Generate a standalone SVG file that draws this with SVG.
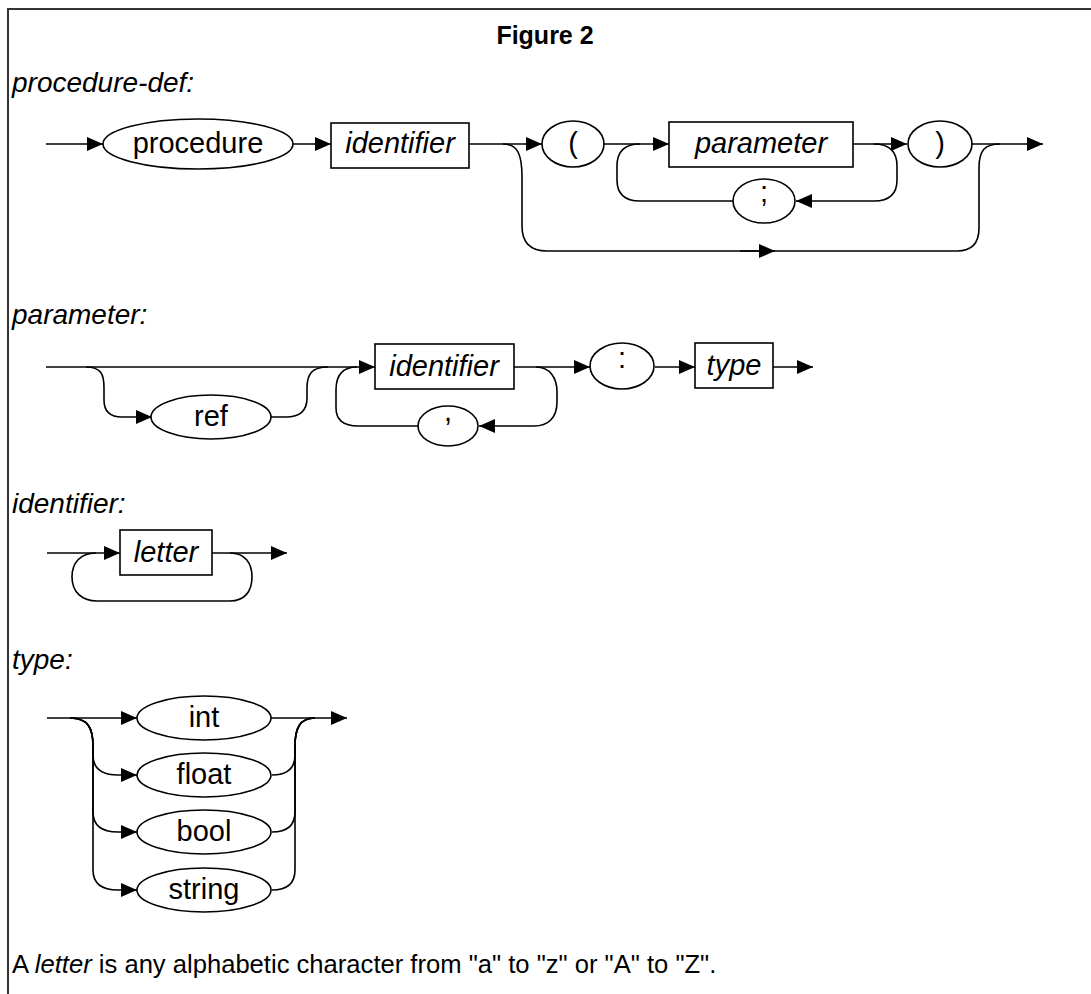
<svg xmlns="http://www.w3.org/2000/svg" width="1091" height="994" viewBox="0 0 1091 994">
<style>
text{font-family:"Liberation Sans",Arial,Helvetica,sans-serif;fill:#000}
.hd{font-size:28px;font-style:italic}
.nt{font-size:29px;text-anchor:middle}
.it{font-style:italic}
.ov,.bx{fill:#fff;stroke:#000;stroke-width:1.6}
.ln{fill:none;stroke:#000;stroke-width:1.6}
.ar{marker-end:url(#ah)}
</style>
<defs>
<marker id="ah" markerUnits="userSpaceOnUse" markerWidth="17" markerHeight="14" refX="16" refY="7" orient="auto">
<path d="M0,0 L16,7 L0,14 z" fill="#000"/>
</marker>
</defs>
<rect width="1091" height="994" fill="#fff"/>
<g id="frame">
<path d="M1091,9 H8 V994" fill="none" stroke="#333" stroke-width="2"/>
</g>
<text id="title" x="545" y="44" style="font-size:25px;font-weight:bold;text-anchor:middle">Figure 2</text>
<text class="hd" x="12" y="92">procedure-def:</text>
<text class="hd" x="12" y="324">parameter:</text>
<text class="hd" x="12" y="513">identifier:</text>
<text class="hd" x="12" y="669">type:</text>
<text x="12" y="973" style="font-size:25.6px">A <tspan font-style="italic">letter</tspan> is any alphabetic character from "a" to "z" or "A" to "Z".</text>

<g id="connectors">
<!-- procedure-def -->
<path class="ln ar" d="M46,144 H103"/>
<path class="ln ar" d="M293,144 H331"/>
<path class="ln ar" d="M469,144 H542"/>
<path class="ln ar" d="M604,144 H669"/>
<path class="ln" d="M640,144 Q617,144 617,166 V180 Q617,201 640,201 H733"/>
<path class="ln ar" d="M874,144 Q897,144 897,166 V180 Q897,201 874,201 H796"/>
<path class="ln ar" d="M853,144 H907"/>
<path class="ln ar" d="M972,144 H1043"/>
<path class="ln" d="M503,144 C518,144 522,155 522,177 V226 Q522,251 547,251 H957 Q979,251 979,228 V168 C979,150 985,144 1000,144"/>
<path class="ln ar" d="M740,251 H775"/>
<!-- parameter -->
<path class="ln ar" d="M46,367 H375"/>
<path class="ln ar" d="M86,367 C101,367 104,374 104,388 V400 C104,412 110,417 122,417 H152"/>
<path class="ln" d="M271,417 H286 C300,417 307,410 307,398 V388 C307,374 312,367 328,367"/>
<path class="ln" d="M357,367 C342,367 336,375 336,390 V408 C336,420 344,426 358,426 H418"/>
<path class="ln ar" d="M536,367 C550,367 557,378 557,392 V402 C557,418 548,426 534,426 H479"/>
<path class="ln ar" d="M514,367 H590"/>
<path class="ln ar" d="M655,367 H695"/>
<path class="ln ar" d="M773,367 H813"/>
<!-- identifier -->
<path class="ln ar" d="M47,553 H120"/>
<path class="ln ar" d="M212,553 H287"/>
<path class="ln" d="M230,553 C245,553 252,563 252,577 C252,592 244,601 230,601 H97 C82,601 72,592 72,577 C72,563 80,553 96,553"/>
<!-- type -->
<path class="ln ar" d="M47,718 H137"/>
<path class="ln ar" d="M70,718 C88,718 93,728 93,746 V755 Q93,775 118,775 H137"/>
<path class="ln ar" d="M70,718 C88,718 93,728 93,746 V812 Q93,832 118,832 H137"/>
<path class="ln ar" d="M70,718 C88,718 93,728 93,746 V870 Q93,890 118,890 H137"/>
<path class="ln ar" d="M270,718 H347"/>
<path class="ln" d="M272,775 Q295,775 295,755 V746 C295,728 300,718 315,718"/>
<path class="ln" d="M272,832 Q295,832 295,812 V746 C295,728 300,718 315,718"/>
<path class="ln" d="M272,890 Q295,890 295,870 V746 C295,728 300,718 315,718"/>
</g>

<g id="node-procedure"><ellipse class="ov" cx="198" cy="144" rx="95" ry="25"/><text class="nt" x="198" y="153">procedure</text></g>
<g id="node-identifier1"><rect class="bx" x="331" y="123" width="138" height="45"/><text class="nt it" x="400" y="153">identifier</text></g>
<g id="node-lparen"><ellipse class="ov" cx="573" cy="144" rx="31" ry="23"/><text class="nt" x="573" y="153">(</text></g>
<g id="node-parameter"><rect class="bx" x="669" y="122" width="184" height="45"/><text class="nt it" x="761" y="153">parameter</text></g>
<g id="node-semicolon"><ellipse class="ov" cx="764" cy="201" rx="31" ry="22"/><text class="nt" x="764" y="202">;</text></g>
<g id="node-rparen"><ellipse class="ov" cx="940" cy="144" rx="32" ry="23"/><text class="nt" x="940" y="153">)</text></g>

<g id="node-ref"><ellipse class="ov" cx="211" cy="417" rx="60" ry="22"/><text class="nt" x="211" y="426">ref</text></g>
<g id="node-identifier2"><rect class="bx" x="375" y="344" width="139" height="45"/><text class="nt it" x="444" y="376">identifier</text></g>
<g id="node-comma"><ellipse class="ov" cx="448" cy="426" rx="30" ry="20"/><text class="nt" x="448" y="421">,</text></g>
<g id="node-colon"><ellipse class="ov" cx="622" cy="366" rx="32" ry="23"/><text class="nt" x="622" y="368">:</text></g>
<g id="node-type"><rect class="bx" x="695" y="343" width="78" height="45"/><text class="nt it" x="734" y="375">type</text></g>

<g id="node-letter"><rect class="bx" x="120" y="530" width="92" height="45"/><text class="nt it" x="166" y="562">letter</text></g>

<g id="node-int"><ellipse class="ov" cx="204" cy="718" rx="67" ry="22"/><text class="nt" x="204" y="727">int</text></g>
<g id="node-float"><ellipse class="ov" cx="204" cy="775" rx="67" ry="22"/><text class="nt" x="204" y="784">float</text></g>
<g id="node-bool"><ellipse class="ov" cx="204" cy="832" rx="67" ry="22"/><text class="nt" x="204" y="841">bool</text></g>
<g id="node-string"><ellipse class="ov" cx="204" cy="890" rx="67" ry="22"/><text class="nt" x="204" y="899">string</text></g>
</svg>
